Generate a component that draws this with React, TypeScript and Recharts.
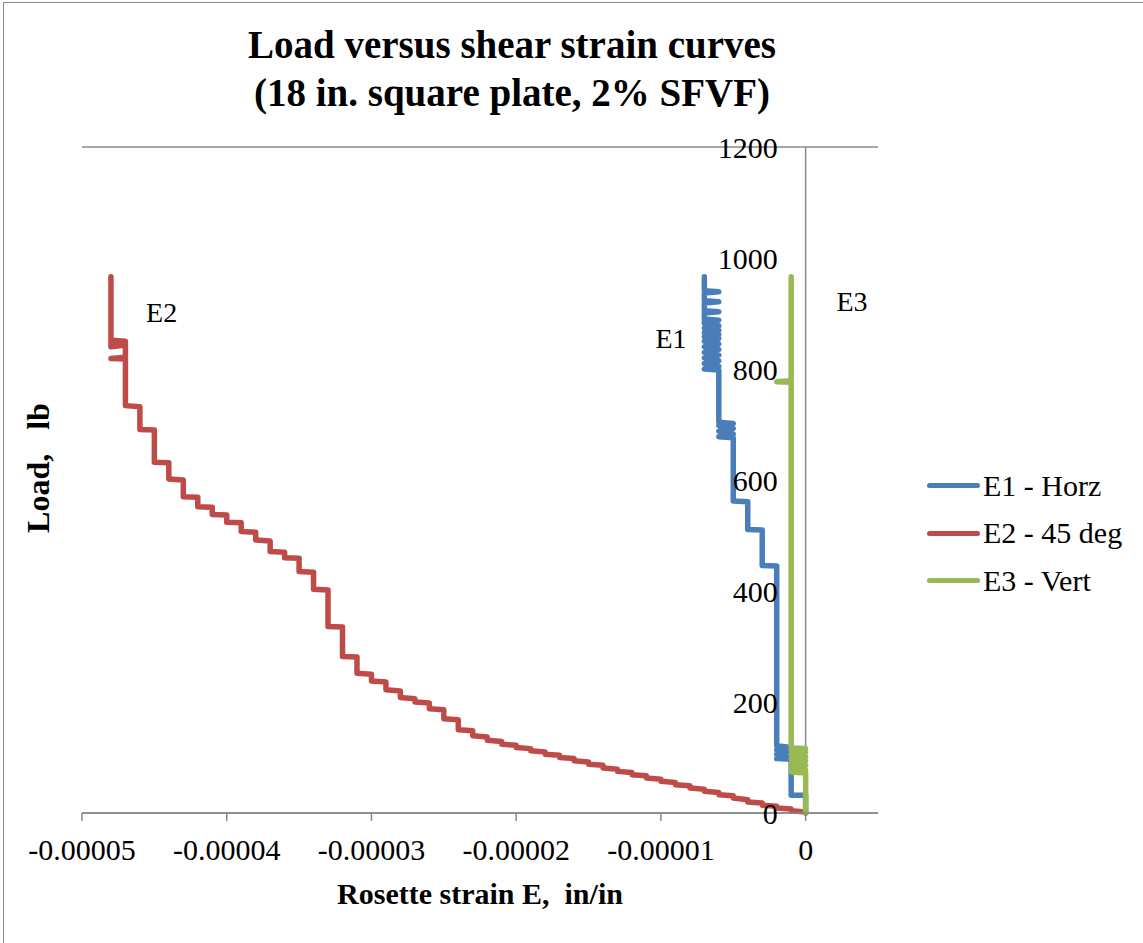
import React from 'react';
import {
  LineChart,
  Line,
  XAxis,
  YAxis,
  CartesianGrid,
  ReferenceLine,
  ReferenceDot,
} from 'recharts';

// strain values in microstrain (in/in x 1e-6), load in lb
const e1Strain = [
  0, 0, -1, -1, -2, -1, -2, -1, -2, -1, -2, -2, -3, -3, -4, -4, -5, -5, -6, -5, -6, -5, -6, -5, -6,
  -6, -7, -6, -7, -6, -7, -6, -7, -6, -7, -6, -7, -6, -7, -6, -7, -6, -7, -6, -7, -7, -6, -7, -7,
  -6, -7, -7, -6, -7, -7, -6, -7, -7,
];
const e1Load = [
  0, 32, 32, 97, 98, 102, 106, 110, 114, 118, 121, 445, 446, 510, 511, 561, 562, 676, 678, 683, 688,
  693, 698, 702, 704, 798, 800, 805, 810, 815, 820, 825, 830, 835, 840, 845, 850, 855, 858, 862, 866,
  870, 874, 878, 882, 886, 888, 890, 901, 903, 905, 919, 921, 923, 937, 939, 941, 966,
];

const e2Strain = [
  0, 0, -1, -1, -2, -2, -3, -3, -4, -4, -5, -5, -6, -6, -7, -7, -8, -8, -9, -9, -10, -10, -11, -11,
  -12, -12, -13, -13, -14, -14, -15, -15, -16, -16, -17, -17, -18, -18, -19, -19, -20, -20, -21, -21,
  -22, -22, -23, -23, -24, -24, -25, -25, -26, -26, -27, -27, -28, -28, -29, -29, -30, -30, -31, -31,
  -32, -32, -33, -33, -34, -34, -35, -35, -36, -36, -37, -37, -38, -38, -39, -39, -40, -40, -41, -41,
  -42, -42, -43, -43, -44, -44, -45, -45, -46, -46, -47, -47, -48, -47, -47, -48, -48, -47, -47, -48,
  -48,
];
const e2Load = [
  0, 2, 4, 7, 9, 12, 14, 18, 20, 24, 27, 31, 33, 37, 39, 43, 45, 49, 51, 55, 57, 61, 63, 67, 69, 73,
  75, 79, 81, 86, 88, 92, 94, 98, 100, 104, 106, 110, 112, 116, 118, 122, 124, 129, 131, 137, 139, 148,
  150, 168, 170, 186, 188, 198, 200, 206, 208, 220, 222, 236, 238, 250, 252, 281, 282, 335, 336, 402,
  403, 434, 435, 459, 460, 470, 471, 490, 492, 506, 507, 523, 524, 537, 538, 551, 552, 569, 570, 600,
  602, 631, 632, 690, 691, 732, 734, 818, 819, 821, 850, 852, 840, 843, 848, 850, 966,
];

const e3Strain = [0, 0, -1, 0, -1, 0, -1, 0, -1, 0, -1, 0, -1, 0, -1, -1, -2, -1, -1];
const e3Load = [0, 72, 74, 78, 82, 86, 90, 94, 98, 102, 106, 110, 114, 116, 117, 776, 777, 779, 966];

const xTicks = [-0.00005, -0.00004, -0.00003, -0.00002, -0.00001, 0];
const yTicks = [0, 200, 400, 600, 800, 1000, 1200];

const seriesNames = ['E1 - Horz', 'E2 - 45 deg', 'E3 - Vert'];
const seriesColors = ['#4A7EBB', '#BE4B48', '#98B954'];

// curve labels: [text, strain (microstrain), load]
const curveLabels: [string, number, number][] = [
  ['E2', -44.5, 903],
  ['E1', -9.3, 856],
  ['E3', 3.2, 922],
];

const FONT = '"Liberation Serif", "Times New Roman", serif';
const GRID = '#898989';

const toPoints = (strain: number[], load: number[]) =>
  strain.map((s, i) => ({ x: s * 1e-6, y: load[i] }));

const seriesData = [
  toPoints(e1Strain, e1Load),
  toPoints(e2Strain, e2Load),
  toPoints(e3Strain, e3Load),
];

function LegendBox() {
  return (
    <div
      style={{
        position: 'absolute',
        left: 927,
        top: 462,
        fontFamily: FONT,
        fontSize: 30,
        color: '#000',
      }}
    >
      {seriesNames.map((name, i) => (
        <div key={name} style={{ display: 'flex', alignItems: 'center', height: 47.5 }}>
          <div
            style={{
              width: 53,
              height: 5,
              borderRadius: 3,
              background: seriesColors[i],
              marginRight: 3,
            }}
          />
          <span>{name}</span>
        </div>
      ))}
    </div>
  );
}

export default function App() {
  return (
    <div
      style={{
        position: 'absolute',
        left: 0,
        top: 0,
        width: 1143,
        height: 943,
        overflow: 'hidden',
        background: '#fff',
        fontFamily: FONT,
      }}
    >
      {/* chart area border */}
      <div
        style={{
          position: 'absolute',
          left: 3,
          top: 2,
          width: 1200,
          height: 1000,
          borderLeft: '1px solid #888',
          borderTop: '1px solid #888',
        }}
      />
      <div
        style={{
          position: 'absolute',
          left: 0,
          top: 21,
          width: 1024,
          textAlign: 'center',
          fontWeight: 'bold',
          fontSize: 39,
          lineHeight: '48px',
        }}
      >
        <div>Load versus shear strain curves</div>
        <div>(18 in. square plate, 2% SFVF)</div>
      </div>
      <div
        style={{
          position: 'absolute',
          left: 82,
          width: 796,
          top: 879,
          textAlign: 'center',
          fontWeight: 'bold',
          fontSize: 30,
          lineHeight: '30px',
          whiteSpace: 'pre',
        }}
      >
        {'Rosette strain E,  in/in'}
      </div>
      <div
        style={{
          position: 'absolute',
          left: 38,
          top: 468,
          transform: 'translate(-50%, -50%) rotate(-90deg)',
          fontWeight: 'bold',
          fontSize: 32,
          lineHeight: '32px',
          whiteSpace: 'pre',
        }}
      >
        {'Load,   lb'}
      </div>

      <div style={{ position: 'absolute', left: 0, top: 0 }}>
        <LineChart
          width={1143}
          height={943}
          margin={{ top: 147, right: 265, bottom: 80, left: 82 }}
          style={{ fontFamily: FONT }}
        >
          <CartesianGrid vertical={false} stroke={GRID} strokeWidth={1.5} />
          <XAxis
            type="number"
            dataKey="x"
            domain={[-0.00005, 0.000005]}
            allowDataOverflow
            ticks={xTicks}
            tickFormatter={(v) => String(v)}
            height={50}
            stroke={GRID}
            strokeWidth={1.5}
            tickSize={8}
            tickMargin={18}
            tick={{ fill: '#000', fontSize: 30, fontFamily: FONT }}
          />
          <YAxis
            type="number"
            domain={[0, 1200]}
            ticks={yTicks}
            width={0}
            tick={false}
            axisLine={false}
            tickLine={false}
          />
          <ReferenceLine x={0} stroke={GRID} strokeWidth={1.5} />
          {yTicks.map((v) => (
            <ReferenceDot
              key={'yt' + v}
              x={0}
              y={v}
              r={1}
              fill="none"
              stroke="none"
              ifOverflow="visible"
              label={{
                value: String(v),
                position: 'left',
                offset: 27,
                fill: '#000',
                fontSize: 30,
                fontFamily: FONT,
              }}
            />
          ))}
          {curveLabels.map(([t, s, l]) => (
            <ReferenceDot
              key={t}
              x={s * 1e-6}
              y={l}
              r={1}
              fill="none"
              stroke="none"
              ifOverflow="visible"
              label={{
                value: t,
                position: 'center',
                fill: '#000',
                fontSize: 28,
                fontFamily: FONT,
              }}
            />
          ))}
          {seriesData.map((d, i) => (
            <Line
              key={seriesNames[i]}
              data={d}
              dataKey="y"
              name={seriesNames[i]}
              type="linear"
              stroke={seriesColors[i]}
              strokeWidth={5.5}
              strokeLinejoin="round"
              strokeLinecap="round"
              dot={false}
              activeDot={false}
              isAnimationActive={false}
            />
          ))}
        </LineChart>
      </div>
      <LegendBox />
    </div>
  );
}
